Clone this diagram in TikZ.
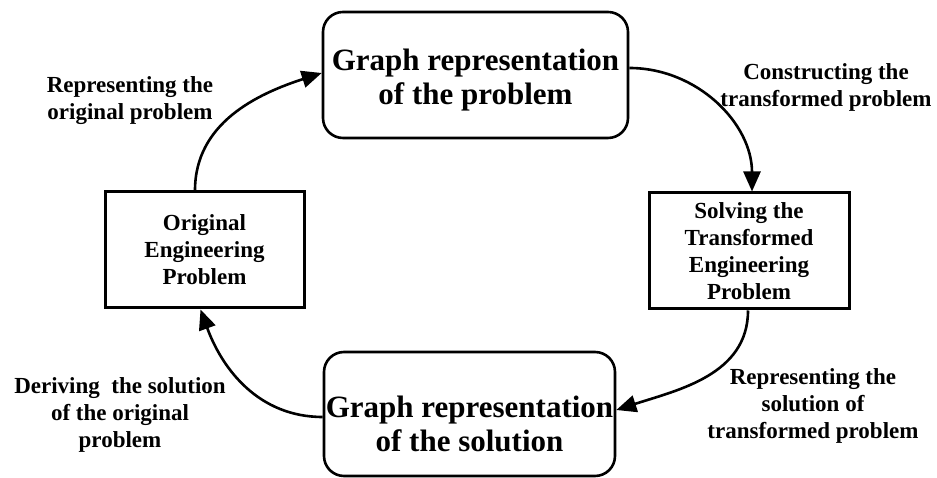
\documentclass[tikz,border=0pt]{standalone}
\usepackage{fontspec}
\setmainfont{Liberation Serif}
\usetikzlibrary{arrows.meta,calc}
\begin{document}
\begin{tikzpicture}[x=1pt,y=1pt,
  graphbox/.style={draw,line width=2.6pt,rounded corners=20pt,inner sep=0pt},
  graphtext/.style={align=center,inner sep=0pt,font=\bfseries\fontsize{31}{34}\selectfont},
  taskbox/.style={draw,line width=3pt,align=center,inner sep=0pt,
    minimum width=199pt,minimum height=116pt,
    font=\bfseries\fontsize{23}{27}\selectfont},
  steplabel/.style={align=center,inner sep=0pt,font=\bfseries\fontsize{23}{27}\selectfont},
  flow/.style={line width=2.6pt,-{Triangle[length=20pt,width=17pt]}}]
\useasboundingbox (0,0) rectangle (937,478);

% four stages of the cycle
\node[graphbox,minimum width=305pt,minimum height=126pt,
  label={[graphtext,yshift=-5pt]center:Graph representation\\of the problem}] (gp) at (475.5,403) {};
\node[graphbox,minimum width=291pt,minimum height=124pt,
  label={[graphtext,yshift=-10pt]center:Graph representation\\of the solution}] (gs) at (469.5,64) {};
\node[taskbox] (orig) at (204.5,228) {Original\\Engineering\\Problem};
\node[taskbox,minimum width=200pt] (solv) at (749,227)
  {Solving the\\Transformed\\Engineering\\Problem};

% step labels
\node[steplabel] (l1) at (130,377) {Representing the\\original problem};
\node[steplabel] (l2) at (826,391) {Constructing the\\transformed problem};
\node[steplabel] (l3) at (813,72) {Representing the\\solution of\\transformed problem};
\node[steplabel] (l4) at (120,63) {Deriving~ the solution\\of the original\\problem};

% connectors
\draw[flow] ($(orig.north)+(-9.5,0)$) to[out=90,in=198] ($(gp.west)+(0,2)$);
\draw[flow] ($(gp.east)+(0,7)$) to[out=0,in=90] ($(solv.north)+(3,0)$);
\draw[flow] ($(solv.south)+(-1,0)$) to[out=-90,in=18] ($(gs.east)+(0,4)$);
\draw[flow] ($(gs.west)+(0,-3)$) to[out=180,in=-70] ($(orig.south)+(-4,0)$);
\end{tikzpicture}
\end{document}
